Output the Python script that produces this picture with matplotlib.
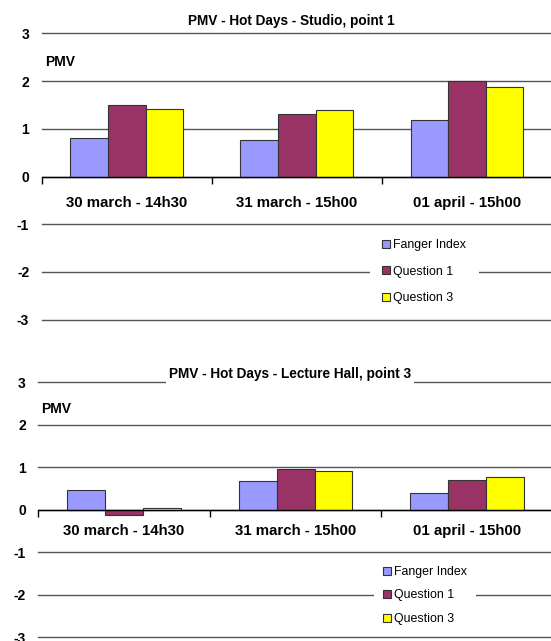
#!/usr/bin/env python3

import matplotlib
matplotlib.use('Agg')
import matplotlib.pyplot as plt
import matplotlib.transforms as mtransforms
import numpy as np

plt.rcParams['font.family'] = ['Liberation Sans', 'DejaVu Sans']

categories = ["30 march - 14h30", "31 march - 15h00", "01 april - 15h00"]
series_names = ["Fanger Index", "Question 1", "Question 3"]
series_colors = ['#9999FF', '#993366', '#FFFF00']

studio_fanger = [0.80, 0.76, 1.19]
studio_q1 = [1.50, 1.31, 2.01]
studio_q3 = [1.42, 1.40, 1.88]

hall_fanger = [0.45, 0.68, 0.39]
hall_q1 = [-0.12, 0.95, 0.70]
hall_q3 = [0.04, 0.91, 0.76]

y_ticks = [-3, -2, -1, 0, 1, 2, 3]


def draw_chart(ax, title, series, title_y, title_box, pmv_y, label_pad,
               spacing, leg_xy, leg_pad):
    """
    Clustered bar chart in the old Excel style.
    """
    for s in ax.spines.values():
        s.set_visible(False)
    # x axis sits at y=0 (do this first, it resets the ticks)
    ax.spines['bottom'].set_position(('data', 0))

    x = np.arange(len(categories))
    width = 0.221
    for j, (vals, name, color) in enumerate(zip(series, series_names, series_colors)):
        ax.bar(x + (j - 1) * width, vals, width, color=color, label=name,
               edgecolor='#333333', linewidth=0.8, zorder=3)

    ax.set_xlim(-0.5, len(categories) - 0.5)
    ax.set_ylim(-3, 3)
    ax.set_yticks(y_ticks)
    ax.set_yticklabels([str(t) for t in y_ticks], fontsize=10, fontweight='bold')
    ax.tick_params(axis='y', length=0, pad=9)
    ax.grid(True, axis='y', color='#555555', linewidth=1.0, zorder=0)
    ax.axhline(0, color='black', linewidth=1.0, zorder=4)

    # category labels centred, tick marks on the boundaries
    ax.set_xticks(x)
    ax.set_xticklabels(categories, fontsize=10.8, fontweight='bold')
    ax.tick_params(axis='x', which='major', length=0, pad=label_pad)
    ax.set_xticks(np.arange(len(categories) + 1) - 0.5, minor=True)
    ax.tick_params(axis='x', which='minor', length=5, width=1.0, color='black', direction='out')

    trans = mtransforms.blended_transform_factory(ax.transAxes, ax.transData)
    bbox = None
    if title_box:
        bbox = dict(boxstyle='square,pad=0.2', facecolor='white', edgecolor='none')
    ax.text(0.489, title_y, title, transform=trans,
            ha='center', va='center', fontsize=9.8, fontweight='bold',
            bbox=bbox, clip_on=False, zorder=5)

    ax.text(0.006, pmv_y, "PMV", transform=trans,
            ha='left', va='center', fontsize=10, fontweight='bold')

    leg = ax.legend(loc='center left', bbox_to_anchor=leg_xy, fontsize=8.9,
                    frameon=True, facecolor='white', edgecolor='none', framealpha=1,
                    fancybox=False, borderpad=leg_pad, borderaxespad=0,
                    handlelength=0.62, handleheight=0.62, handletextpad=0.27,
                    labelspacing=spacing)
    leg.set_zorder(6)

    # keep the gridlines at the limits from being cut in half
    for line in ax.get_ygridlines():
        line.set_clip_on(False)


def main():
    fig = plt.figure(figsize=(5.51, 6.41), dpi=100)

    ax1 = fig.add_axes([0.0757, 0.5012, 0.926, 0.4468])
    draw_chart(ax1, "PMV - Hot Days - Studio, point 1",
               [studio_fanger, studio_q1, studio_q3],
               title_y=3.26, title_box=False, pmv_y=2.405, label_pad=14,
               spacing=1.165, leg_xy=(0.643, 0.168), leg_pad=1.0)

    ax2 = fig.add_axes([0.0695, 0.0062, 0.934, 0.3978])
    draw_chart(ax2, "PMV - Hot Days - Lecture Hall, point 3",
               [hall_fanger, hall_q1, hall_q3],
               title_y=3.18, title_box=True, pmv_y=2.36, label_pad=10.5,
               spacing=0.93, leg_xy=(0.653, 0.163), leg_pad=0.7)

    fig.savefig("out.png", dpi=100)
    plt.close(fig)


if __name__ == "__main__":
    main()
